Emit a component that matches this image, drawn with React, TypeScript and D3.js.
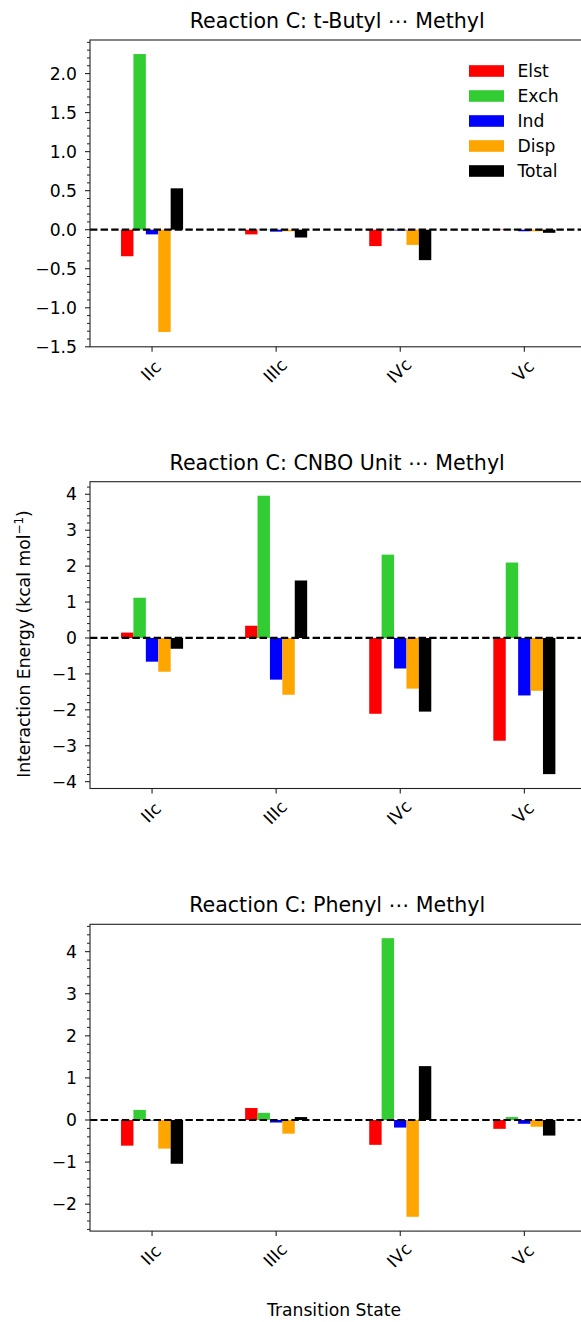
import React from 'react';
import * as d3 from 'd3';

// transition states and energy components
const categories = ['IIc', 'IIIc', 'IVc', 'Vc'];
const components = ['Elst', 'Exch', 'Ind', 'Disp', 'Total'];
const colors = ['#ff0000', '#32cd32', '#0000ff', '#ffa500', '#000000'];

// Reaction C: t-Butyl ... Methyl
const elstButyl = [-0.34, -0.06, -0.21, 0.005];
const exchButyl = [2.25, 0.005, 0.005, 0.005];
const indButyl = [-0.06, -0.025, -0.01, -0.02];
const dispButyl = [-1.31, -0.02, -0.195, -0.02];
const totalButyl = [0.53, -0.1, -0.39, -0.04];

// Reaction C: CNBO Unit ... Methyl
const elstCnbo = [0.15, 0.34, -2.11, -2.86];
const exchCnbo = [1.12, 3.96, 2.32, 2.1];
const indCnbo = [-0.66, -1.16, -0.85, -1.6];
const dispCnbo = [-0.94, -1.58, -1.41, -1.47];
const totalCnbo = [-0.3, 1.6, -2.05, -3.79];

// Reaction C: Phenyl ... Methyl
const elstPhenyl = [-0.61, 0.285, -0.59, -0.21];
const exchPhenyl = [0.24, 0.17, 4.32, 0.07];
const indPhenyl = [-0.01, -0.06, -0.18, -0.09];
const dispPhenyl = [-0.68, -0.325, -2.3, -0.16];
const totalPhenyl = [-1.04, 0.07, 1.28, -0.37];

const titles = [
  'Reaction C: t-Butyl \u22ef Methyl',
  'Reaction C: CNBO Unit \u22ef Methyl',
  'Reaction C: Phenyl \u22ef Methyl',
];
const yLimits = [[-1.5, 2.43], [-4.19, 4.35], [-2.64, 4.65]];
const majorSteps = [0.5, 1, 1];

const panels = [
  [elstButyl, exchButyl, indButyl, dispButyl, totalButyl],
  [elstCnbo, exchCnbo, indCnbo, dispCnbo, totalCnbo],
  [elstPhenyl, exchPhenyl, indPhenyl, dispPhenyl, totalPhenyl],
];

const W = 581;
const H = 1322;
const left = 90;
const right = 586.4;
const panelTops = [40, 481.7, 924.3];
const panelH = 306.8;
const font = 'DejaVu Sans, sans-serif';
const fs = 17.2;
const barW = 0.1;

const Panel = ({ idx }) => {
  const series = panels[idx];
  const top = panelTops[idx];
  const bottom = top + panelH;
  const x = d3.scaleLinear().domain([-0.5, 3.5]).range([left, right]);
  const y = d3.scaleLinear().domain(yLimits[idx]).range([bottom, top]);
  const step = majorSteps[idx];
  const [y0, y1] = yLimits[idx];
  const major = d3.range(Math.ceil(y0 / step - 1e-9), Math.floor(y1 / step + 1e-9) + 1).map(k => k * step);
  const mstep = step / 5;
  const minor = d3.range(Math.ceil(y0 / mstep - 1e-9), Math.floor(y1 / mstep + 1e-9) + 1)
    .map(k => k * mstep)
    .filter(v => !major.some(m => Math.abs(m - v) < 1e-9));
  const fmt = step < 1 ? d3.format('.1f') : d3.format('d');
  const cx = (left + right) / 2;

  return (
    <g>
      <text x={cx - 1} y={top - 12} textAnchor="middle" fontSize={20.6} fontFamily={font}>{titles[idx]}</text>
      {series.map((vals, s) =>
        vals.map((v, c) => {
          const xs = x(c + (s - 2) * barW - barW / 2);
          const xe = x(c + (s - 2) * barW + barW / 2);
          return (
            <rect key={`${s}-${c}`} x={xs} width={xe - xs}
              y={Math.min(y(v), y(0))} height={Math.abs(y(v) - y(0))} fill={colors[s]} />
          );
        })
      )}
      <line x1={left} x2={W} y1={y(0)} y2={y(0)} stroke="#000" strokeWidth={2.2} strokeDasharray="7.4,3.2" />
      <rect x={left} y={top} width={right - left} height={panelH} fill="none" stroke="#222" strokeWidth={1.1} />
      {minor.map(v => (
        <line key={`mn${v}`} x1={left - 3} x2={left} y1={y(v)} y2={y(v)} stroke="#222" strokeWidth={1} />
      ))}
      {major.map(v => (
        <g key={`mj${v}`}>
          <line x1={left - 5} x2={left} y1={y(v)} y2={y(v)} stroke="#222" strokeWidth={1.1} />
          <text x={left - 13} y={y(v) + 0.36 * fs} textAnchor="end" fontSize={fs} fontFamily={font}>{fmt(v)}</text>
        </g>
      ))}
      {categories.map((c, i) => (
        <g key={c}>
          <line x1={x(i)} x2={x(i)} y1={bottom} y2={bottom + 5} stroke="#222" strokeWidth={1.1} />
          <text transform={`translate(${x(i) - 1},${bottom + 24}) rotate(-45)`} textAnchor="middle"
            dominantBaseline="central" fontSize={fs} fontFamily={font}>{c}</text>
        </g>
      ))}
      {idx === 0 && components.map((name, s) => (
        <g key={name}>
          <rect x={469} y={65.2 + s * 25} width={35} height={11.6} fill={colors[s]} />
          <text x={517.5} y={71 + s * 25 + 0.36 * fs} fontSize={fs} fontFamily={font}>{name}</text>
        </g>
      ))}
    </g>
  );
};

export default function App() {
  return (
    <svg width={W} height={H} style={{ position: 'absolute', left: 0, top: 0, background: '#fff' }}>
      <rect width={W} height={H} fill="#fff" />
      {[0, 1, 2].map(i => <Panel key={i} idx={i} />)}
      <text transform="translate(29.5,644) rotate(-90)" textAnchor="middle" fontSize={fs} fontFamily={font}>
        Interaction Energy (kcal mol<tspan dy={-6.5} fontSize={12}>{'\u22121'}</tspan><tspan dy={6.5}>)</tspan>
      </text>
      <text x={334} y={1316} textAnchor="middle" fontSize={fs} fontFamily={font}>Transition State</text>
    </svg>
  );
}
